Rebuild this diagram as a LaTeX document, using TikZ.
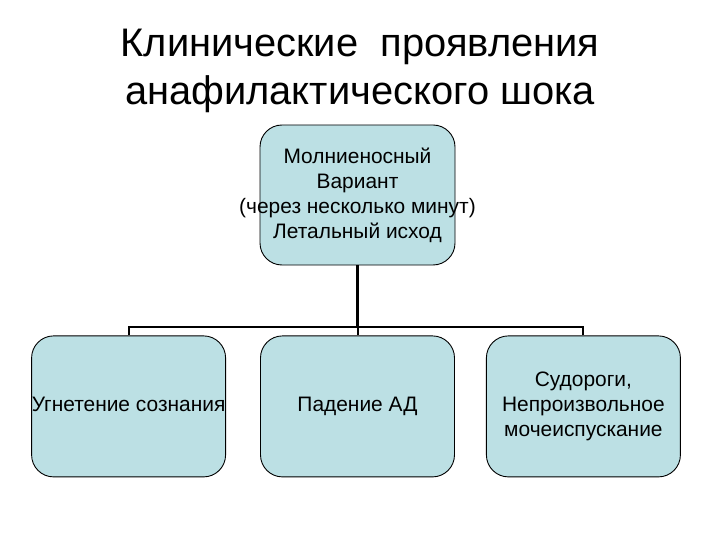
\documentclass[tikz,border=0pt]{standalone}
\usepackage{fontspec}
\setmainfont{Liberation Sans}
\usepackage{tikz}
\usetikzlibrary{positioning}

\definecolor{boxfill}{RGB}{188,224,228}
\tikzset{
    sign/.style = {draw = black, line width = 0.9bp, fill = boxfill, rounded corners = 22bp,
        minimum width = 194bp, minimum height = 141bp, inner xsep = -30bp, inner ysep = 0pt,
        align = center, font = \fontsize{21}{25}\selectfont},
    stem/.style = {line width = 3.5bp},
    branch/.style = {line width = 2bp}
}

\begin{document}
\begin{tikzpicture}[x=1bp, y=-1bp]
        \useasboundingbox (0,0) rectangle (720,540);

        \node[align = center, font = \fontsize{40}{48}\selectfont] (title) at (360,71)
            {Клинические\ \ проявления\\анафилактического шока};

        \node[sign, minimum width = 195bp, minimum height = 140bp] (top) at (357.5,195)
            {Молниеносный\\Вариант\\(через несколько минут)\\Летальный исход};
        \node[sign, below = 70bp of top] (pad) {Падение АД};
        \node[sign, left = 34bp of pad, text depth = 4.4bp] (ugn) {Угнетение сознания};
        \node[sign, right = 31bp of pad] (sud) {Судороги,\\Непроизвольное\\мочеиспускание};

        \coordinate[above = 8bp of pad.north] (split);

        \draw[stem] (top) -- (split);
        \draw[branch] (ugn.north) |- (split) -| (sud.north);
        \draw[branch] (pad) -- (split);
    \end{tikzpicture}
\end{document}
